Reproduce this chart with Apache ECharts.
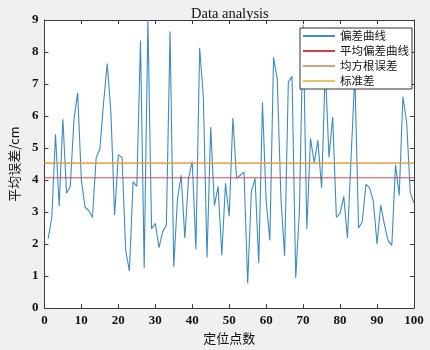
<!DOCTYPE html>
<html>
<head>
<meta charset="utf-8">
<script src="https://cdn.jsdelivr.net/npm/echarts@6/dist/echarts.min.js"></script>
<style>html,body{margin:0;padding:0;background:#f0f0f0;}#c{width:430px;height:350px;}</style>
</head>
<body>
<div id="c"></div>
<script>
// deviation values for positioning points 1..100
const deviation = [
  2.16, 2.83, 5.43, 3.18, 5.90, 3.59, 3.80, 5.89, 6.73, 4.00,
  3.15, 3.05, 2.83, 4.69, 4.97, 6.40, 7.64, 6.10, 2.90, 4.79,
  4.71, 1.80, 1.16, 3.95, 3.80, 8.36, 1.25, 9.00, 2.47, 2.65,
  1.89, 2.38, 2.60, 8.64, 1.29, 3.40, 4.15, 2.19, 4.06, 4.58,
  1.84, 8.13, 6.60, 1.58, 5.65, 3.20, 3.80, 1.65, 3.90, 2.87,
  5.94, 4.05, 4.15, 4.25, 0.78, 3.64, 4.05, 1.40, 6.43, 3.34,
  2.11, 7.83, 7.16, 3.44, 1.63, 7.06, 7.24, 0.94, 3.03, 8.85,
  2.47, 5.30, 4.54, 5.24, 3.75, 7.50, 4.71, 5.97, 2.83, 2.96,
  3.49, 2.19, 4.75, 7.30, 2.50, 2.70, 3.87, 3.75, 3.34, 2.00,
  3.22, 2.61, 2.11, 1.96, 4.48, 3.52, 6.60, 5.83, 3.59, 3.28
];
const seriesNames = ['偏差曲线', '平均偏差曲线', '均方根误差', '标准差'];
const meanValue = [4.07];
const rmsValue = [4.53];
const stdValue = [4.53];
const xRange = [0, 100];
const yRange = [0, 9];

const lineData = deviation.map((v, i) => [i + 1, v]);
const hLine = (v) => [[xRange[0], v], [xRange[1], v]];

const tickFont = {fontFamily: 'Liberation Serif', fontWeight: 'bold', fontSize: 13, color: '#111'};
const axisCol = '#3a3a3a';
function xAx(pos, show) {
  return {
    type: 'value', position: pos, min: xRange[0], max: xRange[1], interval: 10,
    axisLine: {show: true, onZero: false, lineStyle: {color: axisCol, width: 1}},
    axisTick: {show: true, inside: true, length: 4, lineStyle: {color: axisCol}},
    axisLabel: Object.assign({show: show, margin: 6}, tickFont),
    splitLine: {show: false},
    name: show ? '定位点数' : '', nameLocation: 'middle', nameGap: 19,
    nameTextStyle: {fontFamily: 'Noto Sans CJK SC', fontSize: 13, color: '#111'}
  };
}
function yAx(pos, show) {
  return {
    type: 'value', position: pos, min: yRange[0], max: yRange[1], interval: 1,
    axisLine: {show: true, onZero: false, lineStyle: {color: axisCol, width: 1}},
    axisTick: {show: true, inside: true, length: 4, lineStyle: {color: axisCol}},
    axisLabel: Object.assign({show: show, margin: 6}, tickFont),
    splitLine: {show: false},
    name: show ? '平均误差/cm' : '', nameLocation: 'middle', nameGap: 21, nameRotate: 90,
    nameTextStyle: {fontFamily: 'Noto Sans CJK SC', fontSize: 13, color: '#111'}
  };
}
const legendColors = ['#3d8fc6', '#c84444', '#d8a07c', '#e8c25a'];

const chart = echarts.init(document.getElementById('c'), null, {renderer: 'canvas'});
chart.setOption({
  backgroundColor: '#f0f0f0',
  animation: false,
  title: {
    text: 'Data analysis', left: 186, top: 2,
    textStyle: {fontFamily: 'Liberation Serif', fontSize: 14.5, fontWeight: 'normal', color: '#111'}
  },
  grid: {left: 42, right: 16, top: 20, bottom: 36, show: true, backgroundColor: '#ffffff', borderWidth: 0},
  xAxis: [xAx('bottom', true), xAx('top', false)],
  yAxis: [yAx('left', true), yAx('right', false)],
  legend: {
    orient: 'vertical', left: 300, top: 28, selectedMode: false,
    data: seriesNames.map((n, k) => ({
      name: n,
      itemStyle: {color: legendColors[k], borderWidth: 0},
      lineStyle: {color: legendColors[k]}
    })),
    icon: 'rect', itemWidth: 32, itemHeight: 2, itemGap: 1,
    backgroundColor: '#ffffff', borderColor: '#333', borderWidth: 1, borderRadius: 0,
    padding: [1, 3, 1, 3],
    textStyle: {fontFamily: 'Noto Sans CJK SC', fontSize: 11.5, color: '#111', lineHeight: 14}
  },
  series: [
    {name: seriesNames[0], type: 'line', data: lineData, showSymbol: false, symbol: 'none',
     lineStyle: {color: '#3a8cc5', width: 1.1}, itemStyle: {color: '#3a8cc5'}, z: 2},
    {name: seriesNames[1], type: 'line', data: hLine(meanValue[0]), showSymbol: false, symbol: 'none',
     lineStyle: {color: '#cf4a4a', width: 1}, itemStyle: {color: '#cf4a4a'}, z: 3},
    {name: seriesNames[3], type: 'line', data: hLine(stdValue[0]), showSymbol: false, symbol: 'none',
     lineStyle: {color: '#e8c050', width: 1}, itemStyle: {color: '#e8c050'}, z: 3},
    {name: seriesNames[2], type: 'line', data: hLine(rmsValue[0]), showSymbol: false, symbol: 'none',
     lineStyle: {color: '#e58a30', width: 1}, itemStyle: {color: '#d9a07a'}, z: 4}
  ]
});
</script>
</body>
</html>
